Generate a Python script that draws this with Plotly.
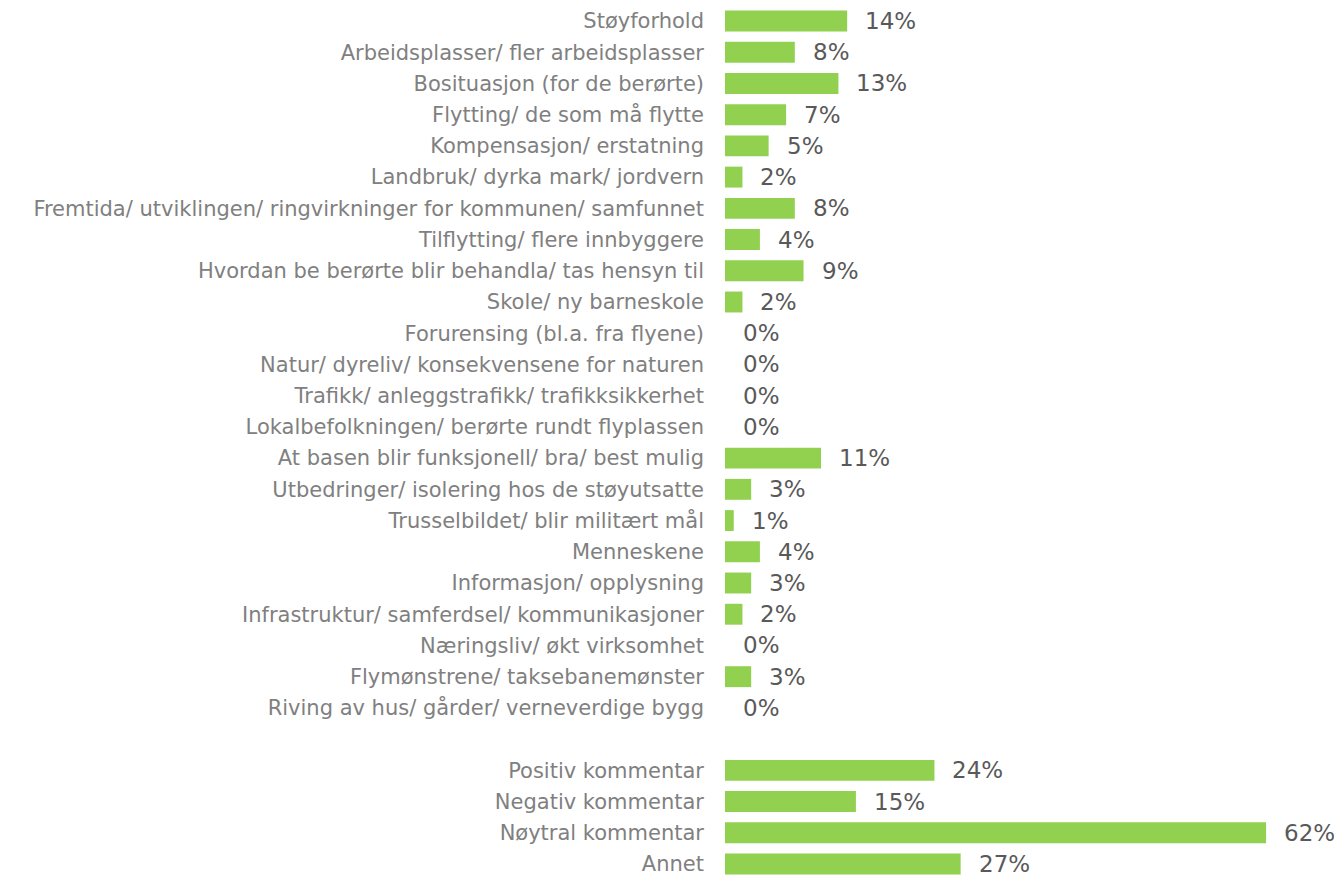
import plotly.graph_objects as go

categories = [
    "Støyforhold",
    "Arbeidsplasser/ fler arbeidsplasser",
    "Bosituasjon (for de berørte)",
    "Flytting/ de som må flytte",
    "Kompensasjon/ erstatning",
    "Landbruk/ dyrka mark/ jordvern",
    "Fremtida/ utviklingen/ ringvirkninger for kommunen/ samfunnet",
    "Tilflytting/ flere innbyggere",
    "Hvordan be berørte blir behandla/ tas hensyn til",
    "Skole/ ny barneskole",
    "Forurensing (bl.a. fra flyene)",
    "Natur/ dyreliv/ konsekvensene for naturen",
    "Trafikk/ anleggstrafikk/ trafikksikkerhet",
    "Lokalbefolkningen/ berørte rundt flyplassen",
    "At basen blir funksjonell/ bra/ best mulig",
    "Utbedringer/ isolering hos de støyutsatte",
    "Trusselbildet/ blir militært mål",
    "Menneskene",
    "Informasjon/ opplysning",
    "Infrastruktur/ samferdsel/ kommunikasjoner",
    "Næringsliv/ økt virksomhet",
    "Flymønstrene/ taksebanemønster",
    "Riving av hus/ gårder/ verneverdige bygg",
    " ",
    "Positiv kommentar",
    "Negativ kommentar",
    "Nøytral kommentar",
    "Annet",
]
values = [14, 8, 13, 7, 5, 2, 8, 4, 9, 2, 0, 0, 0, 0, 11, 3, 1, 4, 3, 2, 0, 3, 0,
          None, 24, 15, 62, 27]

fig = go.Figure()
fig.add_trace(go.Bar(
    x=[v if v is not None else 0 for v in values],
    y=categories,
    orientation="h",
    marker=dict(color="#92D050", line=dict(width=0)),
    hoverinfo="skip",
))

for c, v in zip(categories, values):
    if v is None:
        continue
    fig.add_annotation(
        x=v, y=c, text=f"{v}%", showarrow=False, xanchor="left",
        xshift=16, font=dict(size=23, color="#595959", family="DejaVu Sans"),
    )

fig.update_layout(
    width=1334, height=867, autosize=False,
    margin=dict(l=717, r=0, t=0, b=0),
    paper_bgcolor="white", plot_bgcolor="white",
    bargap=0.33, showlegend=False,
    font=dict(family="DejaVu Sans", size=21, color="#808080"),
    xaxis=dict(range=[0, 70.7], visible=False, showgrid=False, zeroline=False),
    yaxis=dict(
        type="category", categoryorder="array", categoryarray=categories,
        range=[27.352, -0.4164], showgrid=False, zeroline=False, showline=False,
        ticks="", ticklabelstandoff=20,
        tickfont=dict(size=21, color="#808080", family="DejaVu Sans"),
    ),
)

fig.write_html("out.html")
